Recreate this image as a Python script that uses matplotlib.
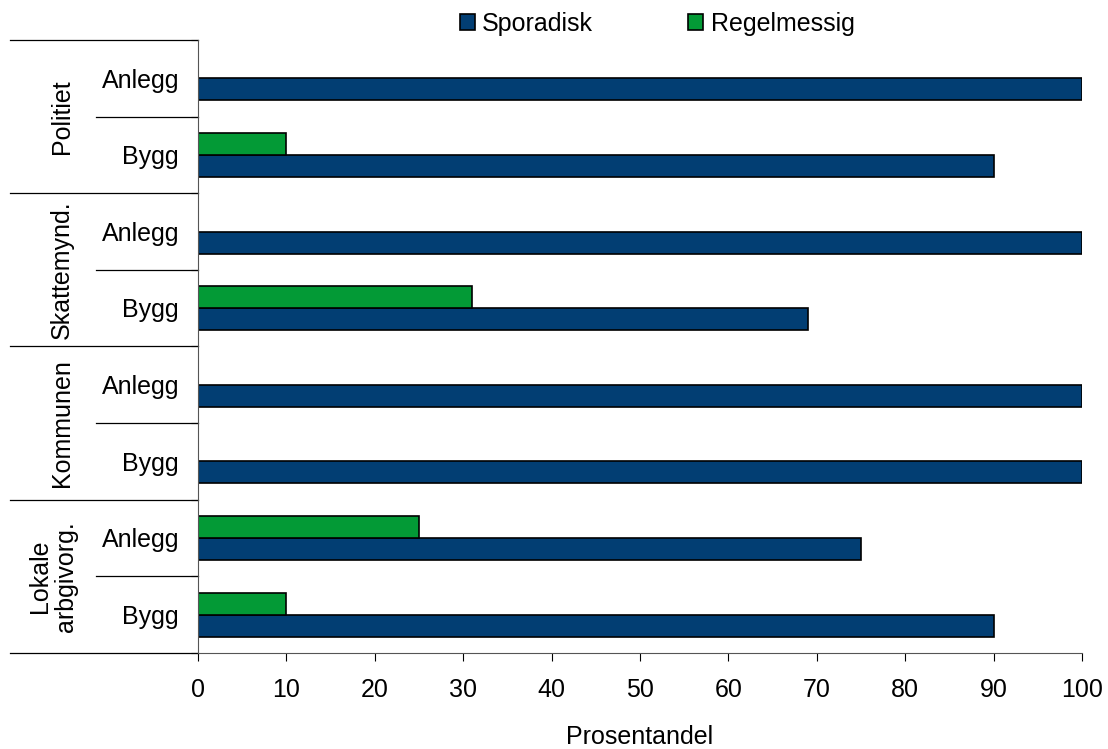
import numpy as np
import matplotlib.pyplot as plt
import matplotlib.transforms as mtransforms

plt.rcParams["font.family"] = ["Liberation Sans", "DejaVu Sans"]

groups = ["Politiet", "Skattemynd.", "Kommunen", "Lokale\narbgivorg."]
subcats = ["Anlegg", "Bygg"]
sporadisk = [100, 90, 100, 69, 100, 100, 75, 90]
regelmessig = [0, 10, 0, 31, 0, 0, 25, 10]

blue = "#023e73"
green = "#039a36"
fs = 18

fig = plt.figure(figsize=(11.08, 7.49), dpi=100)
ax = fig.add_axes([0.1787, 0.1282, 0.7978, 0.8184])

n = len(sporadisk)
y = np.arange(n)
h = 0.287
ax.barh(y + h / 2, sporadisk, height=h, color=blue, edgecolor="black", linewidth=1.2, label="Sporadisk")
reg = np.array(regelmessig, dtype=float)
mask = reg > 0
ax.barh(y[mask] - h / 2, reg[mask], height=h, color=green, edgecolor="black", linewidth=1.2, label="Regelmessig")

ax.set_xlim(0, 100)
ax.set_ylim(n - 0.5, -0.5)
ax.set_xticks(np.arange(0, 101, 10))
ax.tick_params(axis="x", labelsize=fs, length=6, pad=12, direction="out")
ax.set_yticks(np.arange(-0.5, n, 1))
ax.set_yticklabels([])
ax.tick_params(axis="y", length=5, direction="out")
for s in ["top", "right"]:
    ax.spines[s].set_visible(False)
ax.spines["left"].set_color("#555555")
ax.spines["bottom"].set_color("#555555")

fig.text(640 / 1108, 12 / 749, "Prosentandel", ha="center", va="center", fontsize=fs)

# category labels and separators on the left
trans = mtransforms.blended_transform_factory(ax.transAxes, ax.transData)
x_sub_line = (96 - 198) / 884
x_grp_line = (10 - 198) / 884
x_sub_text = (179 - 198) / 884
x_grp_text = (62 - 198) / 884

for i in range(n):
    ax.text(x_sub_text, i + 0.03, subcats[i % 2], transform=trans, ha="right", va="center", fontsize=fs)
for b in range(n + 1):
    if b % 2 == 0:
        x0 = x_grp_line
    else:
        x0 = x_sub_line
    ax.plot([x0, 0], [b - 0.5, b - 0.5], transform=trans, color="black", lw=0.9, clip_on=False)
for g, name in enumerate(groups):
    xg = x_grp_text if "\n" not in name else (53 - 198) / 884
    ax.text(xg, 2 * g + 0.5, name, transform=trans, ha="center", va="center",
            rotation=90, fontsize=fs, linespacing=1.15)

handles, labels = ax.get_legend_handles_labels()
fig.legend(handles, labels, loc="center", bbox_to_anchor=(0.5931, 0.968), ncol=2, frameon=False,
           fontsize=fs, handlelength=0.6, handleheight=0.6, handletextpad=0.3, columnspacing=3.8)

fig.savefig("out.png", dpi=100)
